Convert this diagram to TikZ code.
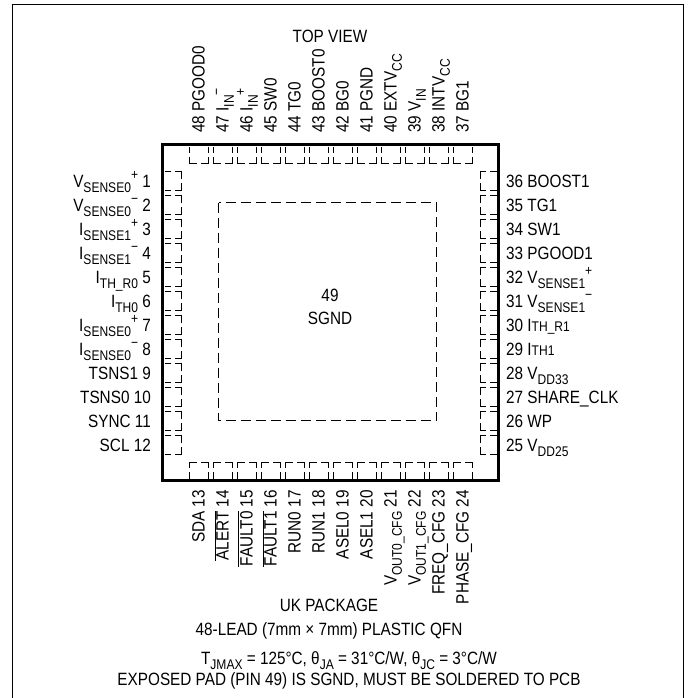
\documentclass[tikz,border=0pt]{standalone}
\usepackage{fontspec}
\setmainfont{Liberation Sans}[FakeStretch=0.86]
\newcommand\sbs[1]{\raisebox{-0.3em}{\fontsize{14}{14}\selectfont #1}}
\newcommand\sps[1]{\raisebox{0.42em}{\fontsize{14}{14}\selectfont #1}}
\newcommand\sml[1]{{\fontsize{14}{14}\selectfont #1}}
\newcommand\ovl[1]{$\overline{\hbox{#1}}$}
\begin{document}
\begin{tikzpicture}[x=1pt,y=-1pt,
  lbl/.style={inner sep=0pt, font=\fontsize{17.8}{18}\selectfont},
  padside/.style={line width=1pt, line cap=rect, dash pattern=on 5.5pt off 5pt},
  padend/.style={line width=1pt, line cap=rect, dash pattern=on 7pt off 5pt}]
\useasboundingbox (0,0) rectangle (688,698);
% outer frame
\draw[line width=1pt] (12.5,700) -- (12.5,5) -- (683,5) -- (683,700);
% package
\draw[line width=3pt] (162.5,144.5) rectangle (498.5,480.5);
\node[draw=none, inner sep=0pt] (pkg) at (330.5,312.5) {};
% exposed pad
\draw[line width=1pt, dash pattern=on 10pt off 5pt] (218.5,202.5) rectangle (436.5,420.5);
\node[lbl, anchor=base] (n49) at (330,301) {49};
\node[lbl, anchor=base] (sgnd) at (330,324) {SGND};
% pads
\foreach \k in {0,...,11}{
  \pgfmathsetmacro\c{198.5+24*\k}
  % top
  \draw[padside] (\c-9.5,163) -- (\c-9.5,145);
  \draw[padend] (\c-9.5,163) -- (\c+9.5,163);
  \draw[padside] (\c+9.5,163) -- (\c+9.5,145);
  % bottom
  \draw[padside] (\c-9.5,462) -- (\c-9.5,480);
  \draw[padend] (\c-9.5,462) -- (\c+9.5,462);
  \draw[padside] (\c+9.5,462) -- (\c+9.5,480);
  \pgfmathsetmacro\r{180.5+24*\k}
  % left
  \draw[padside] (181,\r-9.5) -- (163,\r-9.5);
  \draw[padend] (181,\r-9.5) -- (181,\r+9.5);
  \draw[padside] (181,\r+9.5) -- (163,\r+9.5);
  % right
  \draw[padside] (480,\r-9.5) -- (498,\r-9.5);
  \draw[padend] (480,\r-9.5) -- (480,\r+9.5);
  \draw[padside] (480,\r+9.5) -- (498,\r+9.5);
}
% top labels
\foreach \k/\t in {0/{48 PGOOD0},1/{47 I\sbs{IN}\sps{−}},2/{46 I\sbs{IN}\sps{+}},3/{45 SW0},
  4/{44 TG0},5/{43 BOOST0},6/{42 BG0},7/{41 PGND},8/{40 EXTV\sbs{CC}},9/{39 V\sbs{IN}},
  10/{38 INTV\sbs{CC}},11/{37 BG1}}{
  \node[lbl, rotate=90, anchor=base west] (t\k) at (198.5+24*\k+6,133) {\t};
}
% bottom labels
\foreach \k/\t in {0/{SDA 13},1/{\ovl{ALERT} 14},2/{\ovl{FAULT0} 15},3/{\ovl{FAULT1} 16},
  4/{RUN0 17},5/{RUN1 18},6/{ASEL0 19},7/{ASEL1 20},8/{V\sbs{OUT0\_CFG} 21},
  9/{V\sbs{OUT1\_CFG} 22},10/{FREQ\_CFG 23},11/{PHASE\_CFG 24}}{
  \node[lbl, rotate=90, anchor=base east] (b\k) at (198.5+24*\k+6,490) {\t};
}
% left labels
\foreach \k/\t in {0/{V\sbs{SENSE0}\sps{+} 1},1/{V\sbs{SENSE0}\sps{−} 2},2/{I\sbs{SENSE1}\sps{+} 3},
  3/{I\sbs{SENSE1}\sps{−} 4},4/{I\sbs{TH\_R0} 5},5/{I\sbs{TH0} 6},6/{I\sbs{SENSE0}\sps{+} 7},
  7/{I\sbs{SENSE0}\sps{−} 8},8/{TSNS1 9},9/{TSNS0 10},10/{SYNC 11},11/{SCL 12}}{
  \node[lbl, anchor=base east] (l\k) at (151,180.5+24*\k+6.5) {\t};
}
% right labels
\foreach \k/\t in {0/{36 BOOST1},1/{35 TG1},2/{34 SW1},3/{33 PGOOD1},4/{32 V\sbs{SENSE1}\sps{+}},
  5/{31 V\sbs{SENSE1}\sps{−}},6/{30 I\sml{TH\_R1}},7/{29 I\sml{TH1}},8/{28 V\sbs{DD33}},
  9/{27 SHARE\_CLK},10/{26 WP},11/{25 V\sbs{DD25}}}{
  \node[lbl, anchor=base west] (r\k) at (506,180.5+24*\k+6.5) {\t};
}
% titles
\node[lbl, anchor=base] (top) at (330,42.5) {TOP VIEW};
\node[lbl, anchor=base] (pk1) at (329,611) {UK PACKAGE};
\node[lbl, anchor=base] (pk2) at (329,635) {48-LEAD (7mm × 7mm) PLASTIC QFN};
\node[lbl, anchor=base] (th) at (349,664) {T\sbs{JMAX} = 125°C, θ\sbs{JA} = 31°C/W, θ\sbs{JC} = 3°C/W};
\node[lbl, anchor=base] (ep) at (349,685) {EXPOSED PAD (PIN 49) IS SGND, MUST BE SOLDERED TO PCB};
\end{tikzpicture}
\end{document}
